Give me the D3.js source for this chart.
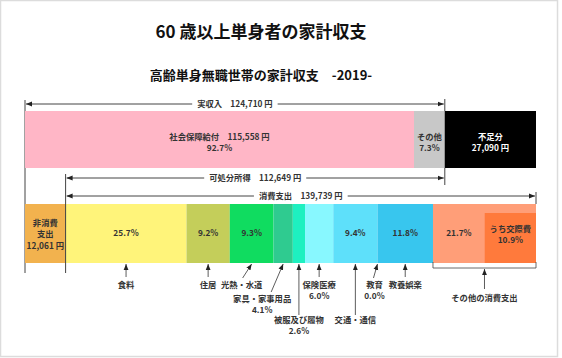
<!DOCTYPE html>
<html><head><meta charset="utf-8">
<script src="https://cdn.jsdelivr.net/npm/d3@7"></script>
<style>body{margin:0;background:#fff;}svg{display:block;font-family:"Noto Sans CJK JP","Noto Sans",sans-serif;}</style>
</head><body><svg id="c" width="562" height="358"></svg>
<script>
// ---- data ----
const title = "60 歳以上単身者の家計収支";
const subtitle = "高齢単身無職世帯の家計収支　-2019-";
const incomeNames = ["社会保障給付", "その他", "不足分"];
const incomeValues = [115558, 9152, 27090];
const incomePct = ["92.7%", "7.3%", null];
const actualIncome = 124710;
const disposableIncome = 112649;
const consumptionTotal = 139739;
const nonConsumption = 12061;
const catNames = ["食料", "住居", "光熱・水道", "家具・家事用品", "被服及び履物", "保険医療", "交通・通信", "教育", "教養娯楽", "その他の消費支出"];
const catPct = [25.7, 9.2, 9.3, 4.1, 2.6, 6.0, 9.4, 0.0, 11.8, 21.7];
const subName = "うち交際費";
const subPct = 10.9;

// ---- styles / layout ----
const colors = ["#FFF47A", "#C4CE5A", "#10DC60", "#2FCB90", "#1EF0C0", "#88F8FF", "#5EE0FA", "#5EE0FA", "#38C6EE", "#FF9E78"];
const incomeColors = ["#FFB6C6", "#C8C8C8", "#000000"];
const nonConsColor = "#F2B24E";
const subColor = "#FF7A3C";
const fmt = d3.format(",");

const svg = d3.select("#c");
svg.append("rect").attr("x", 0.5).attr("y", 0.5).attr("width", 557).attr("height", 356)
  .attr("fill", "#fff").attr("stroke", "#dcdcdc").attr("stroke-width", 1.5);

const total = actualIncome + incomeValues[2];
const x = d3.scaleLinear().domain([0, total]).range([25, 536]);
const topY = 111, topH = 57, botY = 204, botH = 59;
const ink = "#333";

svg.append("text").attr("x", 261).attr("y", 38).attr("text-anchor", "middle")
  .attr("font-size", 17).attr("font-weight", "bold").attr("fill", "#111").text(title);
svg.append("text").attr("x", 261).attr("y", 80).attr("text-anchor", "middle")
  .attr("font-size", 13).attr("font-weight", "bold").attr("fill", "#111").text(subtitle);

const defs = svg.append("defs");
defs.append("marker").attr("id", "ah").attr("viewBox", "0 0 10 10").attr("refX", 10).attr("refY", 5)
  .attr("markerWidth", 6).attr("markerHeight", 6).attr("markerUnits", "userSpaceOnUse").attr("orient", "auto-start-reverse")
  .append("path").attr("d", "M0,1 L10,5 L0,9 Z").attr("fill", "#222");

const g = svg.append("g");
function vline(xv, y1, y2) {
  g.append("line").attr("x1", xv).attr("x2", xv).attr("y1", y1).attr("y2", y2).attr("stroke", "#444").attr("stroke-width", 1);
}
// guide lines
vline(x(0), 100, 273);
vline(x(nonConsumption), 174, 273);
vline(x(actualIncome), 99, 185);
vline(x(total), 192, 204);

function span(v0, v1, y, label) {
  g.append("line").attr("x1", x(v0) + 1).attr("x2", x(v1) - 1).attr("y1", y).attr("y2", y)
    .attr("stroke", "#444").attr("stroke-width", 1)
    .attr("marker-start", "url(#ah)").attr("marker-end", "url(#ah)");
  const t = g.append("text").attr("x", (x(v0) + x(v1)) / 2).attr("y", y).attr("dy", "0.35em")
    .attr("text-anchor", "middle").attr("font-size", 8.3).attr("font-weight", "bold").attr("fill", ink).text(label);
  const bb = t.node().getBBox();
  g.insert("rect", "text:last-of-type").attr("x", bb.x - 5).attr("y", bb.y).attr("width", bb.width + 10).attr("height", bb.height).attr("fill", "#fff");
  t.raise();
}
span(0, actualIncome, 104, "実収入　" + fmt(actualIncome) + " 円");
span(nonConsumption, actualIncome, 178, "可処分所得　" + fmt(disposableIncome) + " 円");
span(nonConsumption, total, 196, "消費支出　" + fmt(consumptionTotal) + " 円");

// top bar
let acc = 0;
const incomeSegs = incomeValues.map((v, i) => { const s = { name: incomeNames[i], v, x0: acc, x1: acc + v, i }; acc += v; return s; });
g.selectAll("rect.inc").data(incomeSegs).join("rect").attr("class", "inc")
  .attr("x", d => x(d.x0)).attr("y", topY).attr("width", d => x(d.x1) - x(d.x0)).attr("height", topH)
  .attr("fill", d => incomeColors[d.i]);
function lines(cx, cy, arr, color, lh) {
  const n = arr.length;
  arr.forEach((s, k) => {
    g.append("text").attr("x", cx).attr("y", cy + (k - (n - 1) / 2) * lh).attr("dy", "0.35em")
      .attr("text-anchor", "middle").attr("font-size", 8.3).attr("font-weight", "bold").attr("fill", color).text(s);
  });
}
incomeSegs.forEach(d => {
  const cx = (x(d.x0) + x(d.x1)) / 2, cy = topY + topH / 2 + 3;
  if (d.i === 0) lines(cx, cy, [d.name + "　" + fmt(d.v) + " 円", incomePct[0]], ink, 11);
  else if (d.i === 1) lines(cx, cy, [d.name, incomePct[1]], ink, 11);
  else lines(cx, cy, [d.name, fmt(d.v) + " 円"], "#fff", 11);
});

// bottom bar
g.append("rect").attr("x", x(0)).attr("y", botY).attr("width", x(nonConsumption) - x(0)).attr("height", botH).attr("fill", nonConsColor);
lines((x(0) + x(nonConsumption)) / 2, botY + botH / 2 + 1, ["非消費", "支出", fmt(nonConsumption) + " 円"], ink, 11.5);

const cx = d3.scaleLinear().domain([0, 100]).range([x(nonConsumption), x(total)]);
acc = 0;
const cats = catPct.map((p, i) => { const s = { name: catNames[i], p, x0: cx(acc), x1: cx(acc + p), i }; acc += p; return s; });
cats[cats.length - 1].x1 = x(total);
g.selectAll("rect.cat").data(cats).join("rect").attr("class", "cat")
  .attr("x", d => d.x0).attr("y", botY).attr("width", d => d.x1 - d.x0).attr("height", botH).attr("fill", d => colors[d.i]);
const subX0 = x(total) - (cx(subPct) - cx(0));
g.append("rect").attr("x", subX0).attr("y", botY + 9).attr("width", x(total) - subX0).attr("height", botH - 9).attr("fill", subColor);
vline(x(nonConsumption), botY, botY + botH);

const inBar = [0, 1, 2, 6, 8];
cats.forEach(d => {
  if (inBar.includes(d.i)) lines((d.x0 + d.x1) / 2, botY + botH / 2, [d.p.toFixed(1) + "%"], ink, 11);
});
const oth = cats[9];
lines((oth.x0 + subX0) / 2, botY + botH / 2, [oth.p.toFixed(1) + "%"], ink, 11);
lines((subX0 + x(total)) / 2, botY + botH / 2 + 1, [subName, subPct.toFixed(1) + "%"], ink, 11);

// annotations below: [dx of arrow tail, tail y, label dx, label center y, show pct]
const ann = [
  [0, 277, 0, 285, false],
  [0, 277, 0, 285, false],
  [-9, 278, -10, 285, false],
  [-12, 292, -21, 299, true],
  [0, 315, 0, 320, true],
  [0, 277, 0, 285, true],
  [0, 315, 0, 320, false],
  [-4, 278, -3, 285, true],
  [0, 277, 0, 285, false]
];
const bot = botY + botH;
cats.slice(0, 9).forEach((d, i) => {
  const a = ann[i];
  const hx = d.p === 0 ? d.x0 : (d.x0 + d.x1) / 2;
  g.append("line").attr("x1", hx + a[0]).attr("y1", a[1]).attr("x2", hx).attr("y2", bot + 1)
    .attr("stroke", "#333").attr("stroke-width", 0.8).attr("marker-end", "url(#ah)");
  const arr = a[4] ? [d.name, d.p.toFixed(1) + "%"] : [d.name];
  arr.forEach((s, k) => {
    g.append("text").attr("x", hx + a[2]).attr("y", a[3] + k * 11.5).attr("dy", "0.35em")
      .attr("text-anchor", "middle").attr("font-size", 8.3).attr("font-weight", "bold").attr("fill", ink).text(s);
  });
});
// bracket for other
const by = 268;
g.append("path").attr("d", `M${oth.x0},${bot - 1}V${by}H${x(total)}V${bot - 1}`).attr("fill", "none").attr("stroke", "#444").attr("stroke-width", 0.8);
const bx = (oth.x0 + x(total)) / 2;
g.append("line").attr("x1", bx).attr("y1", 289).attr("x2", bx).attr("y2", by + 1)
  .attr("stroke", "#333").attr("stroke-width", 0.8).attr("marker-end", "url(#ah)");
g.append("text").attr("x", bx).attr("y", 298).attr("dy", "0.35em").attr("text-anchor", "middle")
  .attr("font-size", 8.3).attr("font-weight", "bold").attr("fill", ink).text(oth.name);
</script></body></html>
